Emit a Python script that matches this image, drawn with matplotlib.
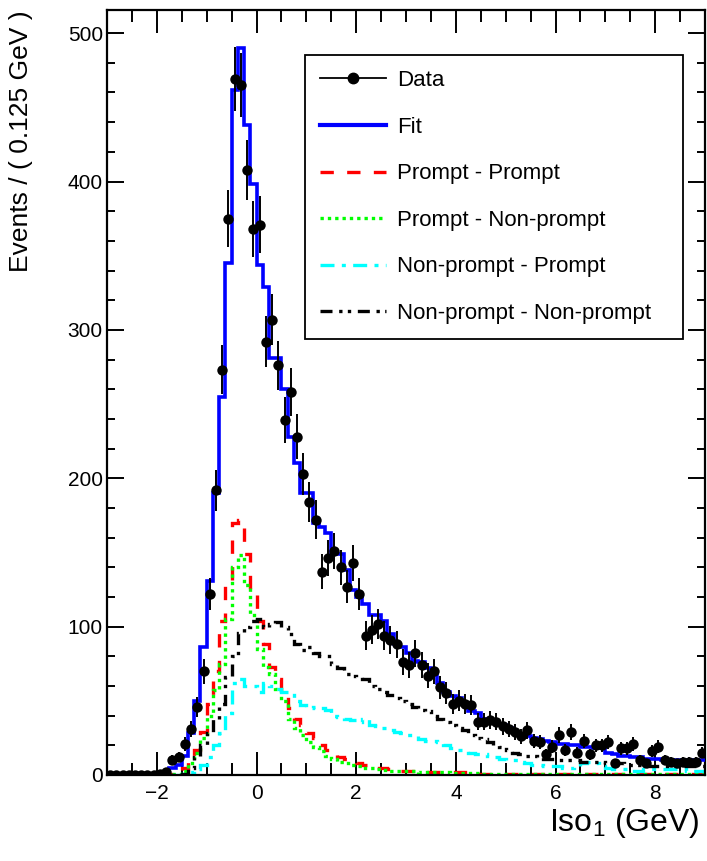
import matplotlib
matplotlib.use("Agg")
import matplotlib.pyplot as plt
import numpy as np
from matplotlib.lines import Line2D
from matplotlib.ticker import MultipleLocator

plt.rcParams['font.family'] = ['Liberation Sans', 'DejaVu Sans']
plt.rcParams['mathtext.fontset'] = 'custom'
plt.rcParams['mathtext.rm'] = 'Liberation Sans'

# ---------------- data ----------------
x_min, x_max, bin_width = -3.0, 9.0, 0.125

data_counts = [0, 0, 0, 0, 0, 0, 0, 0, 1, 2,
               10, 12, 21, 31, 46, 70, 122, 192, 273, 375,
               469, 465, 408, 368, 371, 292, 307, 276, 239, 258,
               228, 203, 184, 172, 137, 146, 151, 140, 127, 143,
               122, 94, 98, 102, 94, 91, 88, 76, 74, 82,
               74, 67, 70, 59, 55, 48, 50, 48, 47, 36,
               36, 37, 36, 33, 31, 29, 26, 30, 23, 22,
               14, 19, 27, 17, 29, 15, 23, 14, 20, 20,
               22, 8, 18, 18, 21, 10, 8, 16, 19, 10,
               9, 8, 9, 9, 9, 15]

fit_total = [0, 0, 0, 0, 0, 0, 0, 0, 0, 2,
             5, 7, 13, 28, 50, 86, 131, 190, 255, 345,
             462, 490, 438, 398, 344, 329, 281, 281, 260, 228,
             210, 190, 190, 170, 167, 163, 149, 149, 138, 125,
             120, 115, 108, 108, 104, 95, 88, 86, 82, 77,
             76, 72, 68, 62, 56, 53, 52, 48, 43, 42,
             38, 37, 36, 34, 32, 29, 27, 26, 25, 24,
             23, 22, 21, 21, 20, 20, 19, 19, 18, 18,
             15, 14, 13, 13, 12, 12, 11, 11, 11, 10,
             10, 10, 10, 10, 10, 10]

prompt_prompt = [0, 0, 0, 0, 0, 0, 0, 0, 0, 0.5,
                 1, 2, 5, 12, 17, 29, 48, 70, 104, 130,
                 170, 172, 149, 122, 104, 88, 73, 65, 55, 45,
                 38, 34, 28, 25, 20, 17, 14, 12, 11, 9,
                 8, 7, 6, 5, 5, 4, 4, 3, 3, 3,
                 3, 2, 2, 2, 2, 2, 2, 2, 1, 1,
                 1, 1, 1, 1, 1, 1, 1, 1, 1, 1,
                 0.5, 0.5, 0.5, 0.5, 0.5, 0.5, 0.5, 0.5, 0.5, 0.5,
                 0.5, 0.5, 0.5, 0.5, 0.5, 0.5, 0.5, 0.5, 0.5, 0.5,
                 0.5, 0.5, 0.5, 0.5, 0.5, 0.5]

prompt_nonprompt = [0, 0, 0, 0, 0, 0, 0, 0, 0, 0,
                    0.5, 1, 3, 8, 15, 25, 40, 57, 75, 105,
                    140, 148, 128, 108, 85, 73, 68, 58, 50, 38,
                    32, 27, 22, 19, 16, 13, 11, 9, 8, 7,
                    6, 5, 4.5, 4, 3.5, 3, 3, 3, 2.5, 2.5,
                    2, 2, 2, 2, 2, 1.5, 1.5, 1.5, 1.5, 1.5,
                    1, 1, 1, 1, 1, 1, 1, 1, 1, 1,
                    1, 1, 1, 1, 1, 1, 1, 1, 1, 1,
                    0.5, 0.5, 0.5, 0.5, 0.5, 0.5, 0.5, 0.5, 0.5, 0.5,
                    0.5, 0.5, 0.5, 0.5, 0.5, 0.5]

nonprompt_prompt = [0, 0, 0, 0, 0, 0, 0, 0, 0, 0,
                    0, 0, 1, 2, 4, 7, 12, 20, 28, 42,
                    62, 65, 60, 60, 56, 62, 60, 58, 56, 55,
                    50, 47, 45, 46, 45, 44, 40, 39, 38, 37,
                    36, 38, 34, 33, 32, 30, 29, 28, 27, 26,
                    24, 23, 23, 22, 20, 18, 17, 16, 15, 14,
                    14, 13, 12, 11, 10, 10, 9, 8, 7, 7,
                    6, 6, 6, 5, 5, 6, 8, 9, 8, 6,
                    5, 4, 4, 4, 3, 3, 4, 4, 4, 4,
                    4, 4, 4, 3, 3, 3]

nonprompt_nonprompt = [0, 0, 0, 0, 0, 0, 0, 0, 0, 0,
                       0, 0, 1, 5, 12, 20, 28, 38, 48, 66,
                       80, 96, 100, 104, 105, 100, 102, 103, 100, 95,
                       88, 84, 86, 82, 80, 80, 75, 72, 68, 67,
                       66, 65, 60, 58, 56, 54, 52, 50, 48, 46,
                       44, 43, 40, 38, 36, 34, 32, 30, 27, 25,
                       24, 22, 20, 19, 17, 15, 14, 13, 13, 12,
                       11, 11, 10, 10, 10, 10, 9, 9, 9, 9,
                       8, 8, 8, 7, 7, 7, 6, 6, 6, 6,
                       6, 6, 6, 6, 6, 6]

legend_labels = ["Data", "Fit", "Prompt - Prompt", "Prompt - Non-prompt",
                 "Non-prompt - Prompt", "Non-prompt - Non-prompt"]

# ---------------- plot ----------------
edges = np.arange(x_min, x_max + bin_width / 2, bin_width)
centers = 0.5 * (edges[:-1] + edges[1:])
data_arr = np.array(data_counts, dtype=float)
yerr = np.sqrt(data_arr)

fig = plt.figure(figsize=(7.07, 8.61), dpi=100)
ax = fig.add_axes([107 / 707, 1 - 775 / 861, 598 / 707, 765 / 861])

LW = 2.4
styles = [
    (prompt_prompt, '#ff0000', (0, (4, 4))),
    (prompt_nonprompt, '#00ff00', (0, (1, 1.2))),
    (nonprompt_prompt, '#00ffff', (0, (4.2, 2.2, 1.2, 2.2))),
    (nonprompt_nonprompt, '#000000', (0, (3.6, 2.0, 1.0, 1.6, 1.0, 2.0))),
]
for vals, col, ls in styles:
    ax.stairs(vals, edges, baseline=None, color=col, lw=LW, linestyle=ls, zorder=2)

ax.stairs(fit_total, edges, baseline=None, color='#0000ff', lw=2.6, zorder=3)

ax.errorbar(centers, data_arr, yerr=yerr, fmt='o', color='k', ms=7.5,
            mec='k', mew=0, capsize=2, elinewidth=1.4, capthick=1.4, zorder=4)

ax.set_xlim(x_min, x_max)
ax.set_ylim(0, 515.6)

ax.xaxis.set_major_locator(MultipleLocator(2))
ax.xaxis.set_minor_locator(MultipleLocator(0.5))
ax.yaxis.set_major_locator(MultipleLocator(100))
ax.yaxis.set_minor_locator(MultipleLocator(20))
ax.tick_params(which='both', direction='in', top=True, right=True,
               labelsize=15, width=1.4)
ax.tick_params(axis='x', which='major', length=16.5, pad=6.5)
ax.tick_params(axis='x', which='minor', length=8.4)
ax.tick_params(axis='y', which='major', length=12, pad=3)
ax.tick_params(axis='y', which='minor', length=6)
for sp in ax.spines.values():
    sp.set_linewidth(1.6)

ax.set_xlabel(r'Iso$_{\mathregular{1}}$ (GeV)', fontsize=23, loc='right')
ax.set_ylabel('Events / ( 0.125 GeV )', fontsize=19, loc='top')
ax.xaxis.set_label_coords((700 - 107) / 598, -0.041)
ax.yaxis.set_label_coords((33 - 107) / 598, 1.0)

handles = [
    Line2D([], [], color='k', lw=1.3, marker='o', ms=7.5),
    Line2D([], [], color='#0000ff', lw=3),
    Line2D([], [], color='#ff0000', lw=LW, linestyle=styles[0][2]),
    Line2D([], [], color='#00ff00', lw=LW, linestyle=styles[1][2]),
    Line2D([], [], color='#00ffff', lw=LW, linestyle=styles[2][2]),
    Line2D([], [], color='#000000', lw=LW, linestyle=styles[3][2]),
]
leg = ax.legend(handles, legend_labels, loc='upper left',
                bbox_to_anchor=(0.331, 0.941, 0.632, 0.0), mode='expand',
                borderaxespad=0, fontsize=16, handlelength=2.97,
                handletextpad=0.5, borderpad=0.68, labelspacing=1.15,
                fancybox=False, framealpha=1, numpoints=1)
leg.get_frame().set_edgecolor('k')
leg.get_frame().set_linewidth(1.3)

fig.savefig('out.png', dpi=100)
